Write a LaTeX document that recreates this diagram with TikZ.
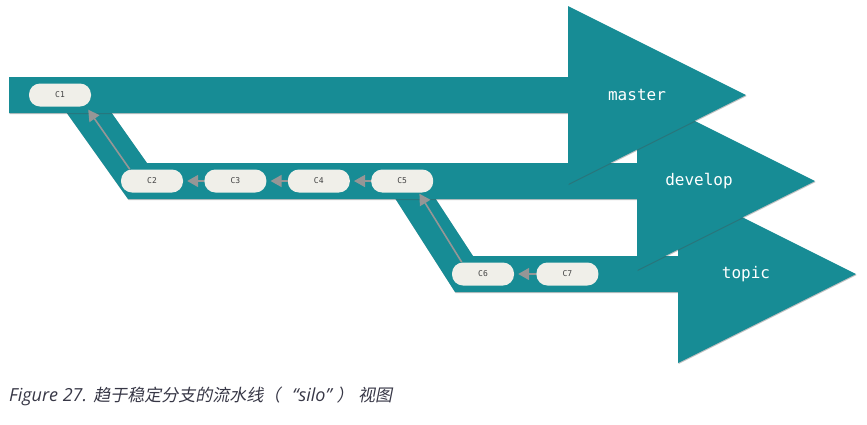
\documentclass[tikz,border=0pt]{standalone}
\usepackage{fontspec}
\setmainfont{Open Sans}
\setmonofont{DejaVu Sans Mono}
\newfontfamily\cjk{Noto Sans CJK SC}[FakeSlant=0.2]
\usepackage{xcolor}
\usepackage{tikz}
\usetikzlibrary{positioning,arrows.meta,shadows}
\definecolor{brcol}{RGB}{23,140,149}
\definecolor{combg}{RGB}{240,239,233}
\definecolor{arrcol}{RGB}{150,150,150}
\definecolor{capcol}{RGB}{55,55,70}
\newcommand{\cjkcap}[1]{{\cjk\fontsize{17}{20}\selectfont #1}}
\tikzset{
  branch/.style={fill=brcol, draw=none,
    drop shadow={shadow xshift=0.6pt, shadow yshift=-1pt, opacity=0.35, fill=black!70}},
  commit/.style={rectangle, rounded corners=11pt, fill=combg, draw=none,
    minimum width=62pt, minimum height=23pt, inner sep=0pt,
    font=\ttfamily\fontsize{8}{9}\selectfont, text=black!75},
  brlabel/.style={font=\ttfamily\fontsize{16}{18}\selectfont, text=white},
  arr/.style={-{Triangle[length=11pt,width=12pt]}, draw=arrcol, line width=1.6pt},
}
\begin{document}
\begin{tikzpicture}[x=1pt, y=-1pt]
  \useasboundingbox (0,0) rectangle (867,424);

  % topic
  \path[branch] (384,181) -- (424,181) -- (473,256) -- (678,256) -- (678,185)
    -- (856,274) -- (678,363) -- (678,292) -- (455,292) -- cycle;
  % develop
  \path[branch] (54,95) -- (99,95) -- (147,163) -- (637,163) -- (637,92)
    -- (815,181) -- (637,270) -- (637,199) -- (128,199) -- cycle;
  % master
  \path[branch] (9,77) -- (568,77) -- (568,6) -- (746,95) -- (568,184)
    -- (568,113) -- (9,113) -- cycle;

  % etykiety
  \node[brlabel] (lmaster) at (637,95) {master};
  \node[brlabel] (ldevelop) at (699,181) {develop};
  \node[brlabel] (ltopic) at (746,274) {topic};

  % commity
  \node[commit] (c1) at (60,95) {C1};
  \node[commit] (c2) at (152,181) {C2};
  \node[commit, right=21pt of c2] (c3) {C3};
  \node[commit, right=21pt of c3] (c4) {C4};
  \node[commit, right=21pt of c4] (c5) {C5};
  \node[commit] (c6) at (483,274) {C6};
  \node[commit, right=22pt of c6] (c7) {C7};

  \draw[arr, shorten >=4pt] (c3.west) -- (c2.east);
  \draw[arr, shorten >=4pt] (c4.west) -- (c3.east);
  \draw[arr, shorten >=4pt] (c5.west) -- (c4.east);
  \draw[arr, shorten >=4pt] (c7.west) -- (c6.east);
  \draw[arr] ([xshift=9pt]c2.north west) -- ([xshift=-3pt, yshift=-3pt]c1.south east);
  \draw[arr] ([xshift=10pt]c6.north west) -- ([xshift=-14pt, yshift=-1pt]c5.south east);

  % podpis
  \node[anchor=base west, inner sep=0pt, text=capcol, font=\fontsize{18}{21}\selectfont\itshape]
    (cap) at (9,401) {Figure 27. \cjkcap{趋于稳定分支的流水线（}\hspace{12pt}“silo” \cjkcap{）} \cjkcap{视图}};
\end{tikzpicture}
\end{document}
